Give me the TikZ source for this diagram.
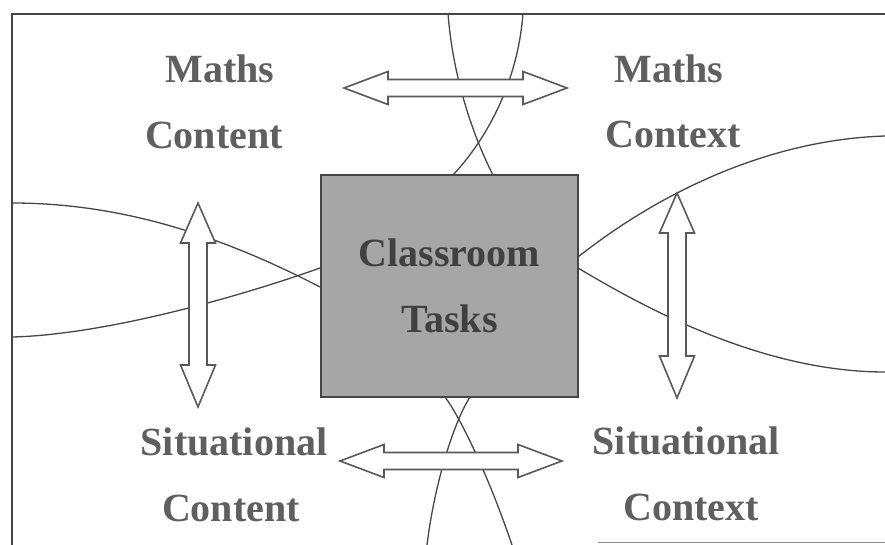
\documentclass[tikz,border=0pt]{standalone}
\usepackage{fontspec}
\setmainfont{Liberation Serif}
\usetikzlibrary{positioning}
\definecolor{cTxt}{RGB}{95,95,95}
\definecolor{cLine}{RGB}{70,70,70}

\tikzset{
    label text/.style={font=\bfseries\fontsize{40}{48}\selectfont, text=cTxt, inner sep=0pt, anchor=base},
    thin curve/.style={draw=cLine, line width=1.3pt},
    hollow arrow/.style={draw=cLine!90, fill=white, line width=1.6pt, line join=miter},
    task box/.style={draw=cLine, line width=1.6pt, fill=black!35, minimum width=257pt, minimum height=222pt,
        align=center, inner sep=0pt, font=\bfseries\fontsize{40}{66}\selectfont, text=black!75}
}

\begin{document}
\begin{tikzpicture}[x=1pt, y=-1pt]

    \useasboundingbox (0,0) rectangle (885,545);

    % Frame
    \draw[cLine, line width=1.5pt] (12,545) -- (12,14) -- (885,14);
    \draw[black!45, line width=1pt] (598,542) -- (885,542);

    % Curves, top
    \draw[thin curve] (448,13) .. controls (452,70) and (470,130) .. (493,175);
    \draw[thin curve] (523,13) .. controls (519,70) and (495,130) .. (453,175);
    % Curves, bottom
    \draw[thin curve] (470,397) .. controls (455,420) and (435,480) .. (427,545);
    \draw[thin curve] (445,397) .. controls (462,420) and (490,480) .. (512,545);
    % Curves, left
    \draw[thin curve] (12,203) .. controls (120,203) and (220,235) .. (320,287);
    \draw[thin curve] (12,337) .. controls (100,335) and (230,300) .. (320,268);
    % Curves, right
    \draw[thin curve] (578,257) .. controls (650,200) and (760,140) .. (885,136);
    \draw[thin curve] (578,268) .. controls (640,305) and (760,372) .. (885,372);

    % Central box
    \node[task box] (tasks) at (449.5,286) {Classroom\\Tasks};

    % Horizontal double arrows
    \foreach \xa/\xb/\yc in {344/567/88, 340/562/461} {
        \draw[hollow arrow] (\xa,\yc) -- (\xa+44,\yc-16.5) -- (\xa+44,\yc-8.5) -- (\xb-44,\yc-8.5)
            -- (\xb-44,\yc-16.5) -- (\xb,\yc) -- (\xb-44,\yc+16.5) -- (\xb-44,\yc+8.5)
            -- (\xa+44,\yc+8.5) -- (\xa+44,\yc+16.5) -- cycle;
    }

    % Vertical double arrows
    \foreach \xc/\ya/\yb in {198/203/407, 677/193/398} {
        \draw[hollow arrow] (\xc,\ya) -- (\xc+17.5,\ya+40) -- (\xc+9,\ya+40) -- (\xc+9,\yb-42)
            -- (\xc+17.5,\yb-42) -- (\xc,\yb) -- (\xc-17.5,\yb-42) -- (\xc-9,\yb-42)
            -- (\xc-9,\ya+40) -- (\xc-17.5,\ya+40) -- cycle;
    }

    % Labels
    \node[label text] (mathsL)   at (220,83)  {Maths};
    \node[label text] (contentL) at (214,149) {Content};
    \node[label text] (mathsR)   at (669,83)  {Maths};
    \node[label text] (contextR) at (673,148) {Context};
    \node[label text] (situL)    at (234,455) {Situational};
    \node[label text] (contentB) at (231,521) {Content};
    \node[label text] (situR)    at (686,454) {Situational};
    \node[label text] (contextB) at (691,520) {Context};

\end{tikzpicture}
\end{document}
